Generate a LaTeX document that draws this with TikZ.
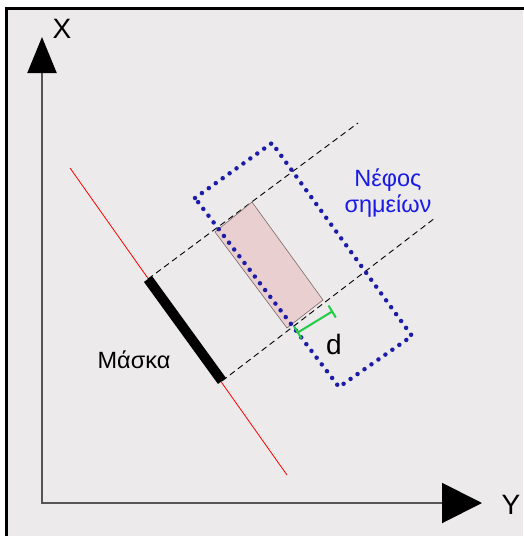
\documentclass[tikz,border=0pt]{standalone}
\usepackage{fontspec}
\setmainfont{Liberation Sans}
\usetikzlibrary{arrows.meta}
\definecolor{bggray}{HTML}{ECEAEA}
\definecolor{axisgray}{HTML}{555555}
\definecolor{maskpink}{HTML}{E9CFCF}
\definecolor{rimgray}{HTML}{7A6A6A}
\definecolor{dotblue}{HTML}{1C1CA8}
\definecolor{txtblue}{HTML}{1A1AE6}
\definecolor{dgreen}{HTML}{22CC44}

\begin{document}
\begin{tikzpicture}[x=1pt,y=-1pt,
  axis/.style={draw=axisgray,line width=2pt},
  big/.style={font=\fontsize{28}{32}\selectfont},
  lbl/.style={font=\fontsize{23.5}{26}\selectfont,align=center},
  ray/.style={dashed,dash pattern=on 6pt off 4pt,line width=0.9pt},
  cloud/.style={draw=dotblue,line width=4.5pt,line cap=round,dash pattern=on 0pt off 8.5pt},
  dim/.style={draw=dgreen,line width=2pt,{Bar[width=14pt]}-{Bar[width=14pt]}}]
\useasboundingbox (0,0) rectangle (523,536);
% frame
\fill[bggray] (6,8) rectangle (523,536);
\draw[line width=3pt] (6.5,540) -- (6.5,8.5) -- (530,8.5);
% axes
\coordinate (O) at (42,503);
\coordinate (xtip) at (42,37);
\coordinate (ytip) at (482,503);
\draw[axis,{Triangle[length=36pt,width=29pt,color=black]}-{Triangle[length=40pt,width=40pt,color=black]}]
  (xtip) -- (O) -- (ytip);
\node[big] (xl) at (62,29) {X};
\node[big] (yl) at (511,505) {Y};
% mask line and mask
\coordinate (r1) at (70,168);
\coordinate (r2) at (287,475);
\coordinate (m1) at (148,279);
\coordinate (m2) at (222,381);
\draw[red,line width=0.8pt] (r1) -- (r2);
\draw[line width=10pt] (m1) -- (m2);
\node[lbl] (mask) at (134,360) {Μάσκα};
% projection rays
\coordinate (p1) at (358,123);
\coordinate (p2) at (435,218);
\draw[ray] (m1) -- (p1);
\draw[ray] (m2) -- (p2);
% shadow of the mask
\coordinate (s1) at (215,232);
\coordinate (s2) at (252,202);
\coordinate (s3) at (323,300);
\coordinate (s4) at (287,328);
\draw[fill=maskpink,draw=rimgray,line width=0.6pt] (s1) -- (s2) -- (s3) -- (s4) -- cycle;
% point cloud
\coordinate (c1) at (195,198);
\coordinate (c2) at (272,143);
\coordinate (c3) at (412,336);
\coordinate (c4) at (339,387);
\draw[cloud] (c1) -- (c2) -- (c3) -- (c4) -- cycle;
\node[lbl,text=txtblue] (cl) at (388,193) {Νέφος\\σημείων};
% distance d
\coordinate (d1) at (297,333);
\coordinate (d2) at (333,311);
\draw[dim] (d1) -- (d2);
\node[big] (dl) at (334,344) {d};
\end{tikzpicture}
\end{document}
